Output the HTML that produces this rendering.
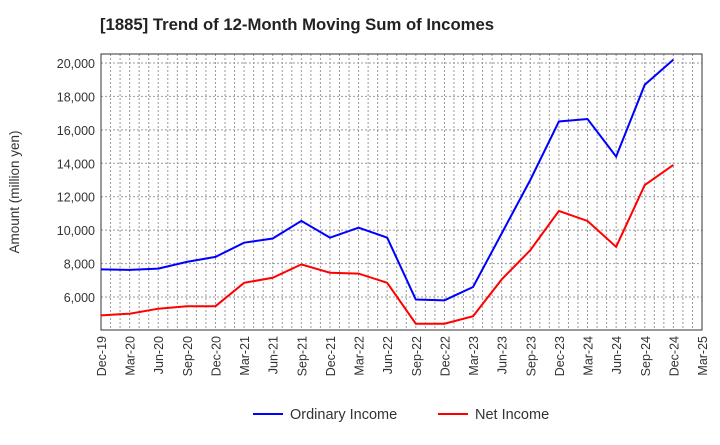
<!DOCTYPE html>
<html><head><meta charset="utf-8"><style>
body{margin:0;background:#fff;font-family:"Liberation Sans",sans-serif;}
</style></head><body>
<svg id="chart" width="720" height="440" font-family="Liberation Sans, sans-serif">
<text x="100" y="30" font-size="16.7" font-weight="bold" fill="#222">[1885]  Trend of 12-Month Moving Sum of Incomes</text>
<text transform="translate(19,192) rotate(-90)" font-size="13.5" fill="#333" text-anchor="middle">Amount (million yen)</text>
<g id="grid"></g><g id="axes"></g><g id="series"></g>
<g>
<line x1="253" y1="414" x2="283" y2="414" stroke="#0000ff" stroke-width="2"/>
<text x="290" y="419" font-size="14.5" fill="#333">Ordinary Income</text>
<line x1="438" y1="414" x2="468" y2="414" stroke="#ff0000" stroke-width="2"/>
<text x="475" y="419" font-size="14.5" fill="#333">Net Income</text>
</g>
</svg>
<script>
const categories=["Dec-19","Mar-20","Jun-20","Sep-20","Dec-20","Mar-21","Jun-21","Sep-21","Dec-21","Mar-22","Jun-22","Sep-22","Dec-22","Mar-23","Jun-23","Sep-23","Dec-23","Mar-24","Jun-24","Sep-24","Dec-24","Mar-25"];
const ordinaryIncome=[7650,7620,7700,8100,8400,9250,9500,10550,9550,10150,9550,5850,5800,6600,9800,13000,16500,16650,14400,18700,20200];
const netIncome=[4900,5000,5300,5450,5450,6850,7150,7950,7450,7400,6850,4400,4400,4850,7050,8800,11150,10550,9000,12700,13900];
const yTicks=[6000,8000,10000,12000,14000,16000,18000,20000];
const L=101,R=702,T=54,B=330;
const x=i=>L+(R-L)*i/(categories.length-1);
const y=v=>297-(v-6000)/2000*33.43;
const ns="http://www.w3.org/2000/svg";
function mk(p,t,a){const e=document.createElementNS(ns,t);for(const k in a)e.setAttribute(k,a[k]);p.appendChild(e);return e;}
const grid=document.getElementById('grid'),axes=document.getElementById('axes'),series=document.getElementById('series');
for(let m=1;m<(categories.length-1)*3;m++){const xx=L+(R-L)*m/((categories.length-1)*3);
const g=mk(grid,'line',{x1:xx,x2:xx,y1:T,y2:B,stroke:'#999','stroke-dasharray':'2,2','stroke-width':1});

}
yTicks.forEach(v=>{const g=mk(grid,'line',{x1:L,x2:R,y1:y(v),y2:y(v),stroke:'#999','stroke-dasharray':'2,2'});


const t=mk(axes,'text',{x:L-6,y:y(v)+5,'font-size':12.5,'text-anchor':'end',fill:'#333'});t.textContent=v.toLocaleString('en-US');

});
const box=mk(axes,'rect',{x:L,y:T,width:R-L,height:B-T,fill:'none',stroke:'#333'});


categories.forEach((c,i)=>{const t=mk(axes,'text',{transform:`translate(${x(i)+5},${B+6}) rotate(-90)`,'font-size':12.5,'text-anchor':'end',fill:'#333'});t.textContent=c;

});
function line(d,c,n){const p=mk(series,'polyline',{points:d.map((v,i)=>x(i)+','+y(v)).join(' '),fill:'none',stroke:c,'stroke-width':2});

}
line(ordinaryIncome,'#0000ff','ordinary-income-line');
line(netIncome,'#ff0000','net-income-line');
</script>
</body></html>
